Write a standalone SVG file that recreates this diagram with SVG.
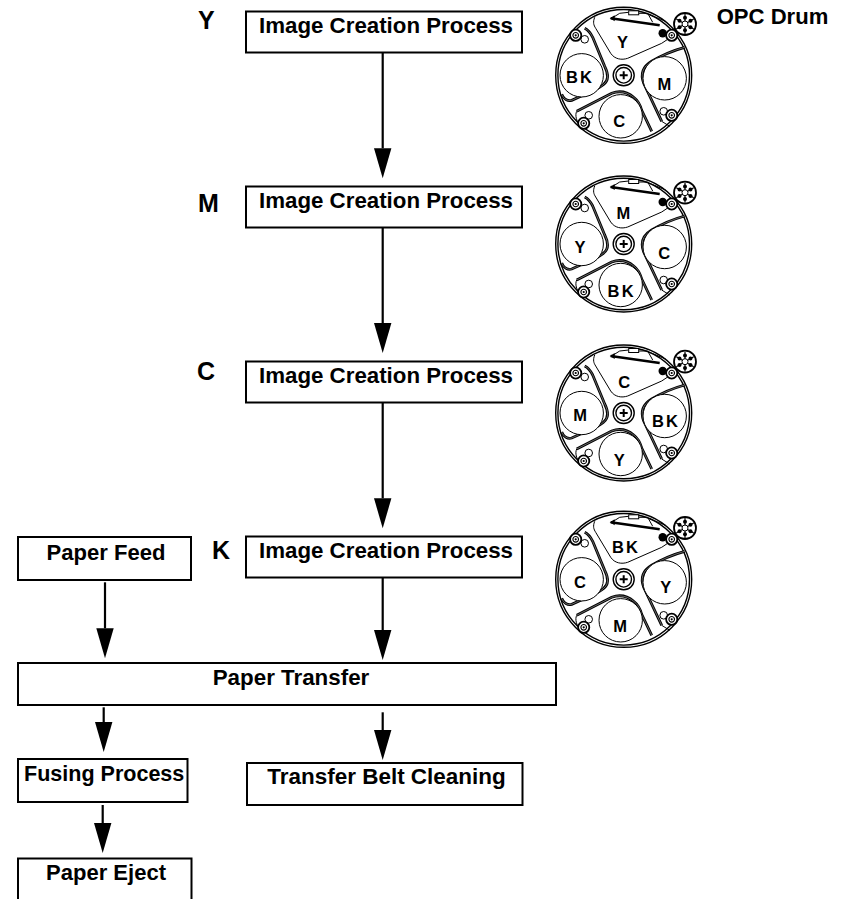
<svg xmlns="http://www.w3.org/2000/svg" xmlns:xlink="http://www.w3.org/1999/xlink" width="851" height="899" viewBox="0 0 851 899">
<style>
text{font-family:"Liberation Sans",Arial,sans-serif;font-weight:bold;fill:#000}
.box{fill:#fff;stroke:#000;stroke-width:2}
.t{font-size:22.5px}
.l{font-size:25px}
.d{font-size:16.5px;text-anchor:middle}
.k{letter-spacing:2.2px}
.c{stroke:#000;stroke-width:2.2;fill:none;marker-end:url(#h)}
.n{fill:none;stroke:#000;stroke-width:1}
.b{fill:none;stroke:#000;stroke-width:2.8}
.w{fill:none;stroke:#fff;stroke-width:.4}
.o{fill:#fff;stroke:#000;stroke-width:1}
.f{fill:#000}
</style>
<defs>
<marker id="h" markerUnits="userSpaceOnUse" markerWidth="32" markerHeight="20" refX="0" refY="9" orient="auto" overflow="visible">
<polygon points="0,0.3 30,9 0,17.7" fill="#000"/>
</marker>
<path id="bl" d="M61,-28C50,-25 38,-20 28,-14C18,-8 17,0 20,8L38,46"/>
<path id="bb" d="M-47,36L-12,18C-4,15 4,17 10,22C14,25 16,28 18,35L28,56"/>
<path id="bf" d="M-39,-47C-35,-45 -33,-42 -31,-38L-19,-9C-15,-1 -15,5 -20,9C-23,12 -28,14 -32,16L-52,25C-56,26 -60,24 -62,19"/>
<g id="roller"><circle r="5.6" fill="#fff" stroke="#000" stroke-width="1.8"/><circle r="2.8" fill="#fff" stroke="#000" stroke-width="1.1"/><circle r="1.1" class="f"/></g>
<g id="drum">
<circle r="68" fill="#fff" stroke="#000" stroke-width="1.4"/>
<circle r="65.800" fill="none" stroke="#000" stroke-width="1.4"/>
<path class="n" d="M-29,-58C-31,-53 -30,-50 -28,-47L-13,-22C-9,-16 -2,-15 4,-17L38,-32L44,-36"/>
<path d="M-13,-57L36,-50" stroke="#000" stroke-width="2.4" fill="none"/>
<path class="f" d="M-14,-57L-9,-60L-9,-54Z"/>
<path class="n" d="M-12,-57L-4,-62L5,-63M15,-62L24,-62L29,-53M25,-61L42,-54"/>
<rect x="5" y="-64.500" width="10" height="4" fill="#fff" stroke="#000" stroke-width="1"/>
<circle cx="39" cy="-42" r="4.200" class="f"/>
<use xlink:href="#roller" href="#roller" x="48" y="-40"/>
<use xlink:href="#bl" href="#bl" class="b"/><use xlink:href="#bl" href="#bl" class="w"/>
<path class="n" d="M38,46L46,51"/>
<circle cx="41" cy="3" r="21.700" class="o"/>
<circle cx="40" cy="36" r="3.800" class="o"/>
<use xlink:href="#roller" href="#roller" x="48" y="40"/>
<use xlink:href="#bb" href="#bb" class="b"/><use xlink:href="#bb" href="#bb" class="w"/>
<path class="n" d="M-47,36C-49,40 -47,46 -44,50"/>
<circle cx="-3" cy="41" r="21.700" class="o"/>
<circle cx="-35" cy="40" r="3.800" class="o"/>
<use xlink:href="#roller" href="#roller" x="-40" y="48"/>
<use xlink:href="#bf" href="#bf" class="b"/><use xlink:href="#bf" href="#bf" class="w"/>
<circle cx="-42" cy="0" r="21.700" class="o"/>
<circle cx="-39" cy="-36" r="3.800" class="o"/>
<use xlink:href="#roller" href="#roller" x="-48" y="-40"/>
<circle r="10.500" fill="#fff" stroke="#000" stroke-width="1.400"/>
<circle r="7.800" fill="#fff" stroke="#000" stroke-width="1.400"/>
<path d="M-4,0H4M0,-4V4" stroke="#000" stroke-width="2"/>
<g transform="translate(61.300,-51.300)">
<circle r="11" fill="#fff" stroke="#000" stroke-width="1.800"/>
<path d="M0,-10V10M-8.700,-5L8.700,5M-8.700,5L8.700,-5" stroke="#000" stroke-width="1.200"/>
<circle r="3" fill="#fff" stroke="#000"/>
<circle cy="-6.300" r="2" class="f"/><circle cy="6.300" r="2" class="f"/><circle cx="5.500" cy="-3.200" r="2" class="f"/><circle cx="5.500" cy="3.200" r="2" class="f"/><circle cx="-5.500" cy="-3.200" r="2" class="f"/><circle cx="-5.500" cy="3.200" r="2" class="f"/>
</g>
</g>
</defs>

<g id="connectors">
<line class="c" x1="382.700" y1="50" x2="382.700" y2="148.300"/>
<line class="c" x1="382.700" y1="225" x2="382.700" y2="323"/>
<line class="c" x1="382.700" y1="400" x2="382.700" y2="498.300"/>
<line class="c" x1="382.700" y1="575.300" x2="382.700" y2="630"/>
<line class="c" x1="105" y1="582.300" x2="105" y2="628.300"/>
<line class="c" x1="103.700" y1="707.300" x2="103.700" y2="722"/>
<line class="c" x1="382.700" y1="712.300" x2="382.700" y2="730"/>
<line class="c" x1="102.700" y1="805" x2="102.700" y2="823"/>
</g>

<g id="node-y"><rect class="box" x="246" y="11.500" width="276" height="41"/><text class="t" x="259" y="32.700" textLength="254" lengthAdjust="spacingAndGlyphs">Image Creation Process</text></g>
<g id="node-m"><rect class="box" x="246" y="186.500" width="276" height="41"/><text class="t" x="259" y="207.700" textLength="254" lengthAdjust="spacingAndGlyphs">Image Creation Process</text></g>
<g id="node-c"><rect class="box" x="246" y="361.500" width="276" height="41"/><text class="t" x="259" y="382.700" textLength="254" lengthAdjust="spacingAndGlyphs">Image Creation Process</text></g>
<g id="node-k"><rect class="box" x="246" y="536.500" width="276" height="41"/><text class="t" x="259" y="558.300" textLength="254" lengthAdjust="spacingAndGlyphs">Image Creation Process</text></g>
<g id="node-paper-feed"><rect class="box" x="18" y="537" width="173" height="43"/><text class="t" x="46.500" y="560" textLength="119" lengthAdjust="spacingAndGlyphs">Paper Feed</text></g>
<g id="node-paper-transfer"><rect class="box" x="18" y="663" width="538" height="42"/><text class="t" x="212.700" y="685" textLength="156.600" lengthAdjust="spacingAndGlyphs">Paper Transfer</text></g>
<g id="node-fusing"><rect class="box" x="18" y="759" width="169.500" height="43"/><text class="t" x="24" y="781" textLength="160.300" lengthAdjust="spacingAndGlyphs">Fusing Process</text></g>
<g id="node-belt-cleaning"><rect class="box" x="247" y="763" width="275.500" height="42"/><text class="t" x="267.300" y="784.300" textLength="238.400" lengthAdjust="spacingAndGlyphs">Transfer Belt Cleaning</text></g>
<g id="node-paper-eject"><path class="box" d="M18,899V858.500H191.500V899"/><text class="t" x="46" y="880" textLength="120" lengthAdjust="spacingAndGlyphs">Paper Eject</text></g>

<g id="label-y"><text class="l" x="198" y="29.300">Y</text></g>
<g id="label-m"><text class="l" x="198" y="211.700">M</text></g>
<g id="label-c"><text class="l" x="197" y="380">C</text></g>
<g id="label-k"><text class="l" x="212" y="559.300">K</text></g>
<g id="label-opc"><text x="716.700" y="24" font-size="22.500" textLength="111.600" lengthAdjust="spacingAndGlyphs">OPC Drum</text></g>

<g id="drum-1"><use xlink:href="#drum" href="#drum" x="623.700" y="75.300"/>
<text class="d" x="622.500" y="48">Y</text><text class="d" x="664.300" y="89.500">M</text><text class="d" x="619.300" y="126.700">C</text><text class="d k" x="580" y="82.700">BK</text></g>
<g id="drum-2"><use xlink:href="#drum" href="#drum" x="623.700" y="244"/>
<text class="d" x="623.300" y="219.300">M</text><text class="d" x="664.300" y="259">C</text><text class="d k" x="621.700" y="297.300">BK</text><text class="d" x="580" y="252.700">Y</text></g>
<g id="drum-3"><use xlink:href="#drum" href="#drum" x="623.700" y="413"/>
<text class="d" x="624.300" y="388.300">C</text><text class="d k" x="666" y="427.300">BK</text><text class="d" x="619.300" y="466">Y</text><text class="d" x="580" y="421">M</text></g>
<g id="drum-4"><use xlink:href="#drum" href="#drum" x="623.700" y="579.300"/>
<text class="d k" x="626" y="552.700">BK</text><text class="d" x="665.700" y="592.700">Y</text><text class="d" x="620" y="631.700">M</text><text class="d" x="580" y="587.700">C</text></g>
</svg>
